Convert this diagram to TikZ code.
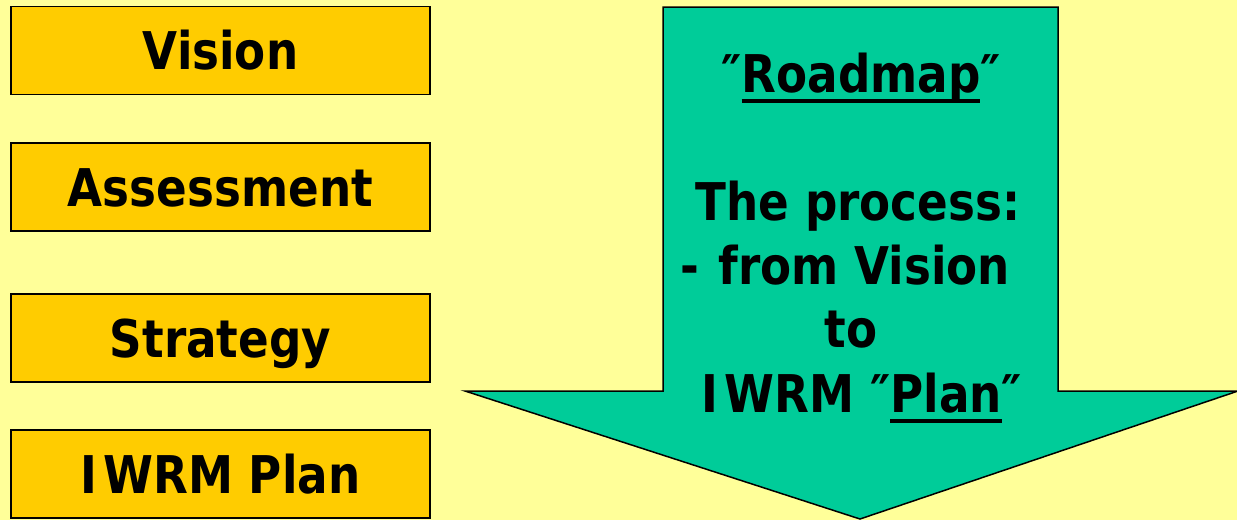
\documentclass[tikz,border=0pt]{standalone}
\usepackage{fontspec}
\newfontfamily\tfont{DejaVu Sans}[FakeStretch=0.87]
\definecolor{bgyellow}{HTML}{FFFF99}
\definecolor{boxgold}{HTML}{FFCC00}
\definecolor{arrowgreen}{HTML}{00CC99}
\newcommand\ulword[1]{\setbox0=\hbox{#1}\rlap{\rule[-11pt]{\wd0}{4.5pt}}\box0}
\tikzset{
  stagebox/.style={draw=black, line width=1.5pt, fill=boxgold, rectangle,
    minimum width=419pt, minimum height=88pt, inner sep=0pt,
    text height=38pt, text depth=0pt,
    font=\tfont\bfseries\fontsize{52}{64}\selectfont},
  bigarrow/.style={draw=black, line width=1.5pt, fill=arrowgreen, line join=miter},
  arrowtext/.style={anchor=base, inner sep=0pt,
    font=\tfont\bfseries\fontsize{52}{64}\selectfont}
}
\begin{document}
\begin{tikzpicture}[x=1pt, y=-1pt]
\useasboundingbox (0,0) rectangle (1237,520);
\fill[bgyellow] (0,0) rectangle (1237,520);
% stage boxes
\node[stagebox] (vision) at (220.5,50.5) {Vision};
\node[stagebox] (assess) at (220.5,187) {Assessment};
\node[stagebox] (strat) at (220.5,338) {Strategy};
\node[stagebox] (plan) at (220.5,474) {I\kern6pt WRM Plan};
% big arrow
\draw[bigarrow] (663,7) -- (1058,7) -- (1058,391) -- (1238,391) -- (860,519)
  -- (465,391) -- (663,391) -- cycle;
% arrow text
\node[arrowtext] (road) at (861,92) {″\ulword{Roadmap}″};
\node[arrowtext] (proc) at (858,220) {The process:};
\node[arrowtext] (from) at (845,284) {-\kern4pt{} from Vision};
\node[arrowtext] (to) at (851,347) {to};
\node[arrowtext] (iwrm) at (862,412) {I\kern6pt WRM ″\ulword{Plan}″};
\end{tikzpicture}
\end{document}
